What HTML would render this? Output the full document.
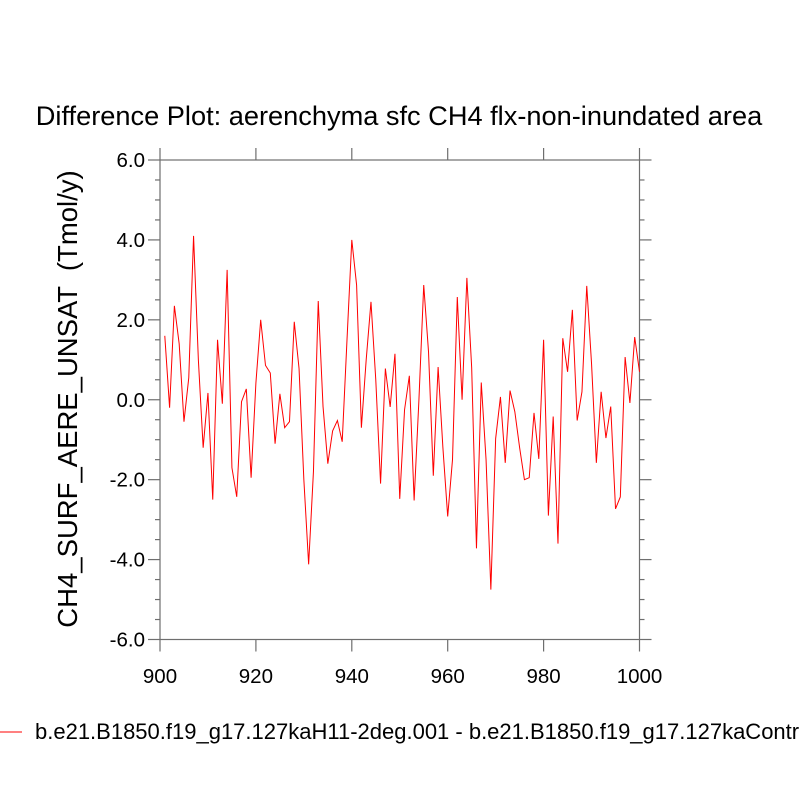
<!DOCTYPE html>
<html><head><meta charset="utf-8"><style>
html,body{margin:0;padding:0;background:#fff;overflow:hidden;}
svg text{font-family:"Liberation Sans",sans-serif;fill:#000;white-space:pre;}
</style></head><body>
<svg id="chart" width="800" height="800" viewBox="0 0 800 800" xmlns="http://www.w3.org/2000/svg">
<text x="399" y="125" font-size="27.2" text-anchor="middle">Difference Plot: aerenchyma sfc CH4 flx-non-inundated area</text>
<text transform="translate(77,399) rotate(-90)" font-size="27.5" text-anchor="middle" xml:space="preserve">CH4_SURF_AERE_UNSAT  (Tmol/y)</text>
<g id="axes"></g>
<path id="series" fill="none" stroke="#ff0000" stroke-width="1"/>
<line x1="0" y1="732" x2="22" y2="732" stroke="#ff0000" stroke-width="1"/>
<text x="35" y="739" font-size="22">b.e21.B1850.f19_g17.127kaH11-2deg.001 - b.e21.B1850.f19_g17.127kaControl</text>
</svg>
<script>
const years = [];
for (let y = 901; y <= 1000; y++) years.push(y);
const values = [
1.6,-0.2,2.35,1.4,-0.55,0.55,4.1,1.0,-1.2,0.17,
-2.5,1.5,-0.1,3.25,-1.7,-2.43,-0.05,0.27,-1.95,0.42,
2.0,0.86,0.67,-1.1,0.15,-0.7,-0.55,1.95,0.78,-2.0,
-4.12,-1.8,2.47,-0.17,-1.6,-0.78,-0.52,-1.05,1.5,4.0,
2.87,-0.7,1.0,2.45,0.5,-2.1,0.78,-0.18,1.15,-2.48,
-0.25,0.6,-2.52,0.0,2.87,1.2,-1.9,0.82,-1.2,-2.92,
-1.5,2.57,0.0,3.05,0.8,-3.72,0.43,-1.5,-4.75,-0.97,
0.07,-1.58,0.23,-0.3,-1.2,-2.0,-1.95,-0.33,-1.48,1.5,
-2.9,-0.42,-3.6,1.54,0.7,2.25,-0.52,0.2,2.85,0.9,
-1.58,0.2,-0.96,-0.17,-2.73,-2.43,1.07,-0.08,1.57,0.7];
const xTicks = [900,920,940,960,980,1000];
const yTicks = [-6,-4,-2,0,2,4,6];
const yTickLabels = ["-6.0","-4.0","-2.0","0.0","2.0","4.0","6.0"];

const L=160,R=639.5,T=160,B=639.5;
const xs = v => L + (v-900)/100*(R-L);
const ys = v => B - (v+6)/12*(B-T);
const NS="http://www.w3.org/2000/svg";
const ax=document.getElementById('axes');
function mk(tag,attrs,parent){const e=document.createElementNS(NS,tag);for(const k in attrs)e.setAttribute(k,attrs[k]);(parent||ax).appendChild(e);return e;}
const G="#6e6e6e";
const box=mk('rect',{x:L,y:T,width:R-L,height:B-T,fill:'none',stroke:G,'stroke-width':1.2});


xTicks.forEach(t=>{
  const x=xs(t);
  const a=mk('line',{x1:x,y1:B,x2:x,y2:B+12,stroke:G,'stroke-width':1.2});
  
  
  const b=mk('line',{x1:x,y1:T,x2:x,y2:T-12,stroke:G,'stroke-width':1.2});
  
  
  const tx=mk('text',{x:x,y:683,'font-size':20.5,'text-anchor':'middle'});
  tx.textContent=t;
  
  
});
for(let v=-6;v<=6.001;v+=0.5){
  const y=ys(v); const major=Math.abs(v-Math.round(v/2)*2)<1e-6;
  const len=major?12:5;
  const a=mk('line',{x1:L,y1:y,x2:L-len,y2:y,stroke:G,'stroke-width':1.2});
  
  
  const b=mk('line',{x1:R,y1:y,x2:R+len,y2:y,stroke:G,'stroke-width':1.2});
  
  
}
yTicks.forEach((t,i)=>{
  const tx=mk('text',{x:145,y:ys(t)+7,'font-size':20.5,'text-anchor':'end'});
  tx.textContent=yTickLabels[i];
  
  
});
let d='';
values.forEach((v,i)=>{d+=(i?'L':'M')+xs(years[i]).toFixed(2)+','+ys(v).toFixed(2);});
document.getElementById('series').setAttribute('d',d);
</script>
</body></html>
